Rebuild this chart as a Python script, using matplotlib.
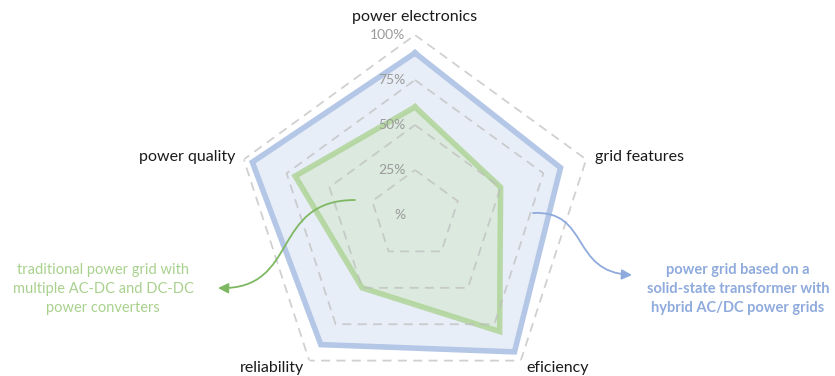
import numpy as np
import matplotlib.pyplot as plt
from matplotlib.patches import FancyArrowPatch
from matplotlib.path import Path

plt.rcParams['font.family'] = ['Lato', 'DejaVu Sans']

categories = ['power electronics', 'grid features', 'eficiency', 'reliability', 'power quality']
sst_grid = [0.90, 0.85, 0.94, 0.89, 0.95]
traditional_grid = [0.60, 0.50, 0.80, 0.50, 0.70]
grid_levels = [0.25, 0.50, 0.75, 1.00]
tick_labels = ['%', '25%', '50%', '75%', '100%']

blue_line = '#b4c7e7'
blue_fill = '#dae3f3'
green_line = '#a9d18e'
green_fill = '#c5e0b4'

W, H = 835, 376
fig = plt.figure(figsize=(W / 100, H / 100), dpi=100)

# radar on a polar axes, centre at (415, 215) px, 100% -> 180 px
cx, cy, R = 415, 215, 180
ax = fig.add_axes([(cx - R) / W, (H - cy - R) / H, 2 * R / W, 2 * R / H], projection='polar')
ax.set_theta_offset(np.pi / 2)
ax.set_theta_direction(-1)
ax.set_ylim(0, 1)
ax.axis('off')

n = len(categories)
angles = np.linspace(0, 2 * np.pi, n, endpoint=False)
closed = np.append(angles, angles[0])

def close(v):
    return list(v) + [v[0]]

ax.fill(closed, close(sst_grid), color=blue_fill, alpha=0.6, zorder=2, lw=0)
ax.plot(closed, close(sst_grid), color=blue_line, lw=4, zorder=3, solid_joinstyle='miter')
ax.fill(closed, close(traditional_grid), color=green_fill, alpha=0.35, zorder=4, lw=0)
ax.plot(closed, close(traditional_grid), color=green_line, lw=4, alpha=0.75, zorder=5,
        solid_joinstyle='miter')

# dashed pentagon grid, on top so it shows through the fills
for lv in grid_levels:
    ax.plot(closed, [lv] * (n + 1), color='#bdbdbd', lw=1.3, ls=(0, (5, 3.5)), zorder=6, alpha=0.7)

# radial tick labels
for lv, lab in zip([0] + grid_levels, tick_labels):
    ax.annotate(lab, xy=(0, lv), xytext=(-7, 0), textcoords='offset points',
                ha='right', va='center', fontsize=10, color='#9a9a9a', zorder=7)

# category labels
label_pos = [(1.10, 'center', 'center'), (1.05, 'left', 'center'), (1.05, 'left', 'center'),
             (1.05, 'right', 'center'), (1.05, 'right', 'center')]
for ang, cat, (r, ha, va) in zip(angles, categories, label_pos):
    ax.text(ang, r, cat, ha=ha, va=va, fontsize=11.5, color='#1a1a1a', clip_on=False)

# overlay for annotations in pixel coordinates
ov = fig.add_axes([0, 0, 1, 1], facecolor='none')
ov.set_xlim(0, W)
ov.set_ylim(H, 0)
ov.axis('off')

green_path = Path([(355, 200), (270, 200), (300, 290), (218, 288)],
                  [Path.MOVETO, Path.CURVE4, Path.CURVE4, Path.CURVE4])
ov.add_patch(FancyArrowPatch(path=green_path, arrowstyle='-|>,head_length=6,head_width=3',
                             color='#7fb862', lw=1.3, zorder=7))
blue_path = Path([(533, 213), (590, 210), (570, 272), (632, 275)],
                 [Path.MOVETO, Path.CURVE4, Path.CURVE4, Path.CURVE4])
ov.add_patch(FancyArrowPatch(path=blue_path, arrowstyle='-|>,head_length=6,head_width=3',
                             color='#8faadc', lw=1.3, zorder=7))

ov.text(103, 289, 'traditional power grid with\nmultiple AC-DC and DC-DC\npower converters',
        ha='center', va='center', fontsize=10.5, color='#a9d18e', linespacing=1.45)
ov.text(738, 289, 'power grid based on a\nsolid-state transformer with\nhybrid AC/DC power grids',
        ha='center', va='center', fontsize=10.5, color='#8faadc', fontweight='bold', linespacing=1.45)

fig.savefig('out.png', dpi=100)
